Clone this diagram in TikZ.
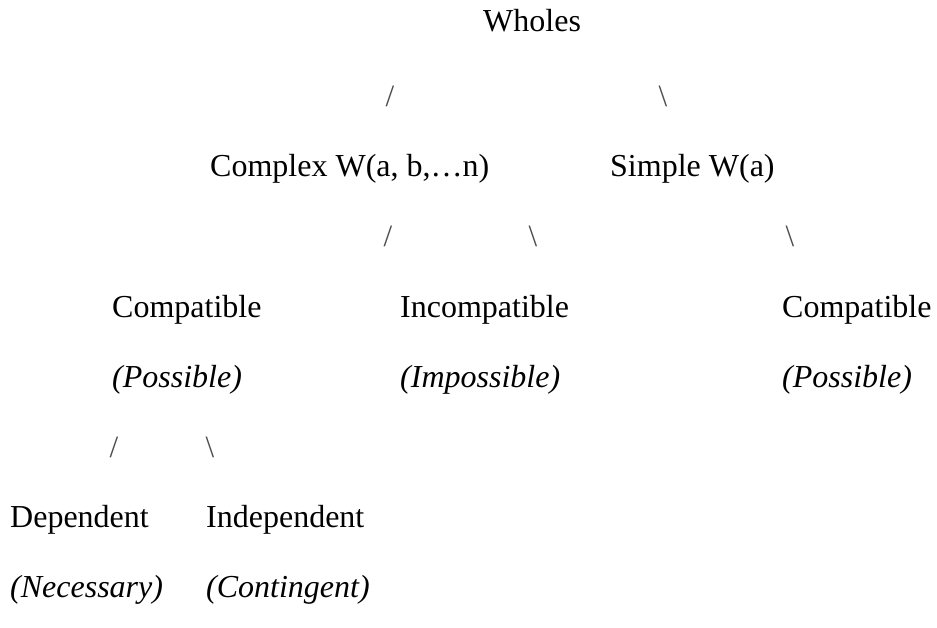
\documentclass[tikz,border=0pt]{standalone}
\usepackage{fontspec}
\setmainfont{Liberation Serif}
\usepackage{tikz}

\begin{document}
\begin{tikzpicture}[x=1pt,y=-1pt,
  lbl/.style={anchor=base west,inner sep=0pt,font=\fontsize{32}{38}\selectfont},
  note/.style={lbl,font=\fontsize{32}{38}\selectfont\itshape},
  slash/.style={anchor=base,inner sep=0pt,text=black!70,font=\fontsize{31}{38}\selectfont}]
  \useasboundingbox (0,0) rectangle (937,628);
  % top
  \node[lbl] (wholes) at (483,32) {Wholes};
  \node[slash] (sl1) at (390,107) {/};
  \node[slash] (bs1) at (663,107) {\textbackslash};
  % second level
  \node[lbl] (complex) at (210,177) {Complex W(a, b,\ldots n)};
  \node[lbl] (simple) at (610,177) {Simple W(a)};
  \node[slash] (sl2) at (388,247) {/};
  \node[slash] (bs2) at (533,247) {\textbackslash};
  \node[slash] (bs3) at (790,247) {\textbackslash};
  % third level
  \node[lbl] (compat) at (112,317) {Compatible};
  \node[note] (poss) at (112,387) {(Possible)};
  \node[lbl] (incompat) at (400,317) {Incompatible};
  \node[note] (imposs) at (400,387) {(Impossible)};
  \node[lbl] (compatb) at (782,317) {Compatible};
  \node[note] (possb) at (782,387) {(Possible)};
  \node[slash] (sl3) at (114,457) {/};
  \node[slash] (bs4) at (210,457) {\textbackslash};
  % bottom
  \node[lbl] (dep) at (10,527) {Dependent};
  \node[note] (nec) at (10,597) {(Necessary)};
  \node[lbl] (indep) at (206,527) {Independent};
  \node[note] (cont) at (206,597) {(Contingent)};
\end{tikzpicture}
\end{document}
